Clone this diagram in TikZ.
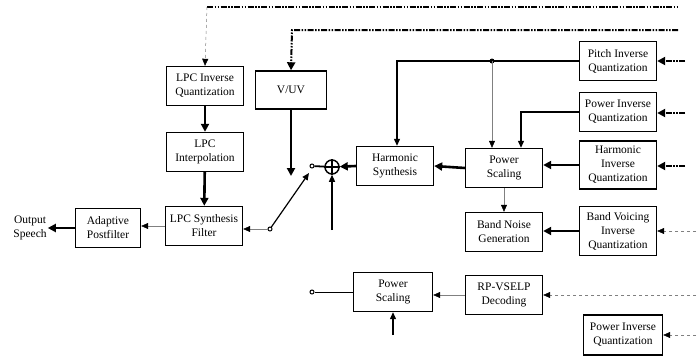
\documentclass[tikz,border=0pt]{standalone}
\usepackage{fontspec}
\setmainfont{Liberation Serif}
\usetikzlibrary{arrows.meta}
\begin{document}
\begin{tikzpicture}[x=1pt,y=-1pt,
  blk/.style={draw, line width=1.4pt, align=center, minimum width=77pt, minimum height=39pt, inner sep=1pt, font=\fontsize{11.5}{14}\selectfont},
  txt/.style={align=center, inner sep=1pt, font=\fontsize{11.5}{14}\selectfont},
  tipb/.style={-{Triangle[length=8pt,width=8pt]}},
  tips/.style={-{Triangle[length=7pt,width=6pt,color=black]}},
  thk/.style={line width=2.6pt, tipb},
  med/.style={line width=1.2pt, tips},
  thn/.style={line width=0.5pt, gray, tips},
  dashthk/.style={line width=2pt, dash pattern=on 6pt off 1.5pt on 1.5pt off 1.5pt on 1.5pt off 1.5pt},
  dashthn/.style={line width=0.5pt, gray, dash pattern=on 3pt off 3pt},
  sw/.style={circle, draw, line width=1pt, minimum size=4pt, inner sep=0pt}]
\useasboundingbox (0,0) rectangle (697,359);
% left column
\node[blk] (lpciq) at (205,86) {LPC Inverse\\Quantization};
\node[blk, minimum width=71pt, minimum height=38pt] (vuv) at (291,90) {V/UV};
\node[blk] (lpcint) at (205,152) {LPC\\Interpolation};
\node[blk] (lpcsyn) at (204,226) {LPC Synthesis\\Filter};
\node[blk, minimum width=65pt] (postf) at (108,228) {Adaptive\\Postfilter};
\node[txt] (out) at (30,228) {Output\\Speech};
% right column
\node[blk] (pitchiq) at (618,61) {Pitch Inverse\\Quantization};
\node[blk] (poweriq) at (618,112) {Power Inverse\\Quantization};
\node[blk, minimum height=48pt] (harmiq) at (618,165) {Harmonic\\Inverse\\Quantization};
\node[blk, minimum height=49pt] (bvoiq) at (618,231) {Band Voicing\\Inverse\\Quantization};
\node[blk, minimum width=79pt, minimum height=40pt] (poweriq2) at (623,335) {Power Inverse\\Quantization};
% middle
\node[blk] (harmsyn) at (395,166) {Harmonic\\Synthesis};
\node[blk] (pscale) at (504,168) {Power\\Scaling};
\node[blk] (bnoise) at (504,232) {Band Noise\\Generation};
\node[blk] (rpvselp) at (504,295) {RP-VSELP\\Decoding};
\node[blk, minimum width=79pt] (pscale2) at (393,292) {Power\\Scaling};
% adder and switch
\node[circle, draw, line width=1.5pt, minimum size=14pt, inner sep=0pt] (sum) at (332,167) {};
\draw[line width=1.5pt] (sum.north) -- (sum.south) (sum.west) -- (sum.east);
\node[sw] (sw1) at (312,166) {};
\node[sw] (sw2) at (270,229) {};
\node[sw] (sw3) at (312,292) {};
\coordinate (armtip) at (309,173);
\coordinate (vuvend) at (291,176);
\coordinate (sumin) at (332,230);
\coordinate (psin) at (393,335);
% bitstream lines
\coordinate (t1) at (207,7);
\coordinate (t1e) at (678,7);
\coordinate (t2) at (292,30);
\coordinate (t2e) at (678,30);
\draw[dashthk] (t1) -- (t1e);
\draw[dashthn, tips] (t1) -- (lpciq.north);
\draw[dashthk, tipb] (t2e) -- (t2) -- (vuv.north);
\coordinate (i1) at (685,61);
\coordinate (i2) at (685,113);
\coordinate (i3) at (685,166);
\coordinate (i4) at (696,231);
\coordinate (i5) at (696,295);
\coordinate (i6) at (696,335);
\foreach \a/\b in {i1/pitchiq, i2/poweriq, i3/harmiq}
  \draw[dashthk, tipb] (\a) -- (\b.east |- \a);
\draw[dashthn, tips] (i4) -- (bvoiq.east);
\draw[dashthn, tips] (i5) -- (rpvselp.east);
\draw[dashthn, tips] (i6) -- (poweriq2.east);
% connectors
\draw[thk] (lpciq) -- (lpcint);
\draw[thk] (lpcint) -- (lpcsyn);
\draw[thn] (lpcsyn.west) -- (lpcsyn.west -| postf.east);
\draw[thk] (postf.west) -- (out.east);
\draw[thk] (vuv.south) -- (vuvend);
\draw[thn] (sw2) -- (sw2 -| lpcsyn.east);
\draw[med] (sw2) -- (armtip);
\draw[line width=1.8pt] (sw1) -- (sum);
\draw[thk] (harmsyn.west) -- (sum);
\draw[med] (sumin) -- (sum);
\coordinate (pdot) at (492,61);
\draw[med] (pitchiq.west) -| ([xshift=2pt]harmsyn.north);
\fill (pdot) circle (2.5);
\draw[thn] (pdot) -- (pdot |- pscale.north);
\draw[med] (poweriq.west) -| ([xshift=17pt]pscale.north);
\draw[thk] (harmiq.west) -- (harmiq.west -| pscale.east);
\draw[thk] (pscale.west) -- (harmsyn.east);
\draw[thn] (pscale.south) -- (bnoise.north);
\draw[thk] (bvoiq.west) -- (bvoiq.west -| bnoise.east);
\draw[thn] (rpvselp.west) -- (rpvselp.west -| pscale2.east);
\draw[line width=0.8pt] (pscale2.west) -- (sw3);
\draw[med] (psin) -- (pscale2.south);
\end{tikzpicture}
\end{document}
